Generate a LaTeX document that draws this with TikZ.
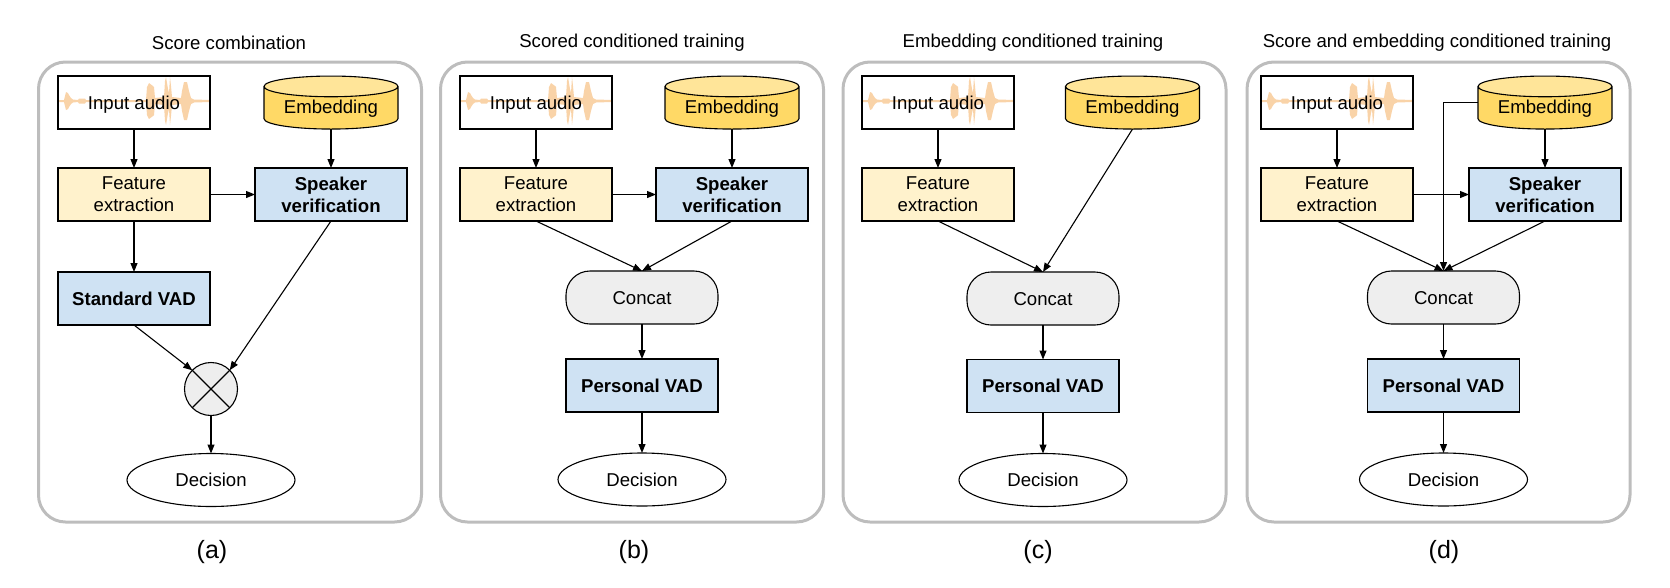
\documentclass[tikz,border=0pt]{standalone}
\usepackage{fontspec}
\setmainfont{Liberation Sans}
\usetikzlibrary{arrows.meta,shapes.geometric}
\definecolor{featcol}{HTML}{FFF2CC}
\definecolor{bluecol}{HTML}{CFE2F3}
\definecolor{embcol}{HTML}{FFD966}
\definecolor{embtop}{HTML}{FFE599}
\definecolor{graycol}{HTML}{EEEEEE}
\definecolor{framecol}{HTML}{BDBDBD}
\definecolor{wavecol}{HTML}{F9D3A8}
\def\wavelist{0/1,6/1,7/5,8/9,10/8,11/6,13/3,15/1.5,20/1,21/2.5,27/2.5,28/1,88/1,89/14,91/18,95/15,96/14,97/3,106/4,107/20,108/24,110/12,111/8,112/24,113/15,114/4,123/3,124/10,126/19,129/19,131/10,133/3,136/1.5,152/1}
\tikzset{
	base/.style={draw, line width=1.1pt, outer sep=0pt, inner sep=0pt, align=center, font=\fontsize{18.6}{21.7}\selectfont},
	oneline/.style={text height=15pt, text depth=2pt},
	audio/.style={base, minimum width=152pt, minimum height=53pt},
	feature/.style={audio, fill=featcol},
	model/.style={audio, fill=bluecol, font=\fontsize{18.6}{21.7}\selectfont\bfseries},
	concat/.style={audio, oneline, fill=graycol, rounded corners=24pt},
	embedding/.style={base, cylinder, shape border rotate=90, aspect=0.22, minimum width=134pt, minimum height=53pt, text height=14.4pt, text depth=3.4pt, cylinder uses custom fill, cylinder body fill=embcol, cylinder end fill=embtop},
	decision/.style={base, oneline, ellipse, minimum width=168pt, minimum height=53pt},
	mixer/.style={base, circle, fill=graycol, minimum size=53pt, path picture={
		\draw[line width=1.1pt] (path picture bounding box.north west) -- (path picture bounding box.south east);
		\draw[line width=1.1pt] (path picture bounding box.north east) -- (path picture bounding box.south west);}},
	panel/.style={draw=framecol, line width=3pt, rounded corners=27pt, minimum width=383pt, minimum height=460pt, outer sep=0pt},
	title/.style={font=\fontsize{18.6}{21.7}\selectfont},
	caption/.style={font=\fontsize{25}{30}\selectfont},
	arrow/.style={draw, line width=1.1pt, -{Triangle[length=9pt,width=7pt]}},
	wave/.pic={
		\foreach \s in {1,-1}
			\fill[wavecol, yscale=\s] (-76,0.4) \foreach \u/\h in \wavelist { -- (\u-76,-\h) } -- (76,0.4) -- cycle;
	}
}
\begin{document}
\begin{tikzpicture}[x=1pt, y=-1pt]
	\useasboundingbox (0, 0) rectangle (1670, 587);

	% (a)
	\node[panel] (panela) at (230, 292) {};
	\node[title] (titlea) at (229, 43) {Score combination};
	\pic at (134, 101) {wave};
	\node[audio, oneline] (inputa) at (134, 102.5) {Input audio};
	\node[embedding] (emba) at (331, 108) {Embedding};
	\node[feature] (feata) at (134, 194.5) {Feature\\extraction};
	\node[model] (spka) at (331, 194.5) {Speaker\\verification};
	\node[model, oneline] (vada) at (134, 298.5) {Standard VAD};
	\node[mixer] (mixa) at (211, 389) {};
	\node[decision] (deca) at (211, 480) {Decision};
	\node[caption] (capa) at (212, 552) {(a)};
	\draw[arrow] (inputa) -- (feata);
	\draw[arrow] (emba.south) -- (spka);
	\draw[arrow] (feata) -- (spka);
	\draw[arrow] (feata) -- (vada);
	\draw[arrow] (vada.south) -- (mixa.135);
	\draw[arrow] (spka.south) -- (mixa.45);
	\draw[arrow] (mixa) -- (deca);

	% (b)
	\node[panel] (panelb) at (632, 292) {};
	\node[title] (titleb) at (632, 43) {Scored conditioned training};
	\pic at (536, 101) {wave};
	\node[audio, oneline] (inputb) at (536, 102.5) {Input audio};
	\node[embedding] (embb) at (732, 108) {Embedding};
	\node[feature] (featb) at (536, 194.5) {Feature\\extraction};
	\node[model] (spkb) at (732, 194.5) {Speaker\\verification};
	\node[concat] (concatb) at (642, 297.5) {Concat};
	\node[model, oneline] (vadb) at (642, 385.5) {Personal VAD};
	\node[decision] (decb) at (642, 479.5) {Decision};
	\node[caption] (capb) at (634, 552) {(b)};
	\draw[arrow] (inputb) -- (featb);
	\draw[arrow] (embb.south) -- (spkb);
	\draw[arrow] (featb) -- (spkb);
	\draw[arrow] (featb.south) -- (concatb.north);
	\draw[arrow] (spkb.south) -- (concatb.north);
	\draw[arrow] (concatb) -- (vadb);
	\draw[arrow] (vadb) -- (decb);

	% (c)
	\node[panel] (panelc) at (1034.5, 292) {};
	\node[title] (titlec) at (1033, 43) {Embedding conditioned training};
	\pic at (938, 101) {wave};
	\node[audio, oneline] (inputc) at (938, 102.5) {Input audio};
	\node[embedding] (embc) at (1132.5, 108) {Embedding};
	\node[feature] (featc) at (938, 194.5) {Feature\\extraction};
	\node[concat] (concatc) at (1043, 298.5) {Concat};
	\node[model, oneline] (vadc) at (1043, 386) {Personal VAD};
	\node[decision] (decc) at (1043, 480) {Decision};
	\node[caption] (capc) at (1038, 552) {(c)};
	\draw[arrow] (inputc) -- (featc);
	\draw[arrow] (featc.south) -- (concatc.north);
	\draw[arrow] (embc.south) -- (concatc.north);
	\draw[arrow] (concatc) -- (vadc);
	\draw[arrow] (vadc) -- (decc);

	% (d)
	\node[panel] (paneld) at (1438.5, 292) {};
	\node[title] (titled) at (1437, 43) {Score and embedding conditioned training};
	\pic at (1337, 101) {wave};
	\node[audio, oneline] (inputd) at (1337, 102.5) {Input audio};
	\node[embedding] (embd) at (1545, 108) {Embedding};
	\node[feature] (featd) at (1337, 194.5) {Feature\\extraction};
	\node[model] (spkd) at (1545, 194.5) {Speaker\\verification};
	\node[concat] (concatd) at (1443.5, 297.5) {Concat};
	\node[model, oneline] (vadd) at (1443.5, 385.5) {Personal VAD};
	\node[decision] (decd) at (1443.5, 479.5) {Decision};
	\node[caption] (capd) at (1444, 552) {(d)};
	\draw[arrow] (inputd) -- (featd);
	\draw[arrow] (embd.south) -- (spkd);
	\draw[arrow] (featd) -- (spkd);
	\draw[arrow] (featd.south) -- (concatd.north);
	\draw[arrow] (spkd.south) -- (concatd.north);
	\draw[arrow] (embd.west |- inputd) -| (concatd.north);
	\draw[arrow] (concatd) -- (vadd);
	\draw[arrow] (vadd) -- (decd);
\end{tikzpicture}
\end{document}
